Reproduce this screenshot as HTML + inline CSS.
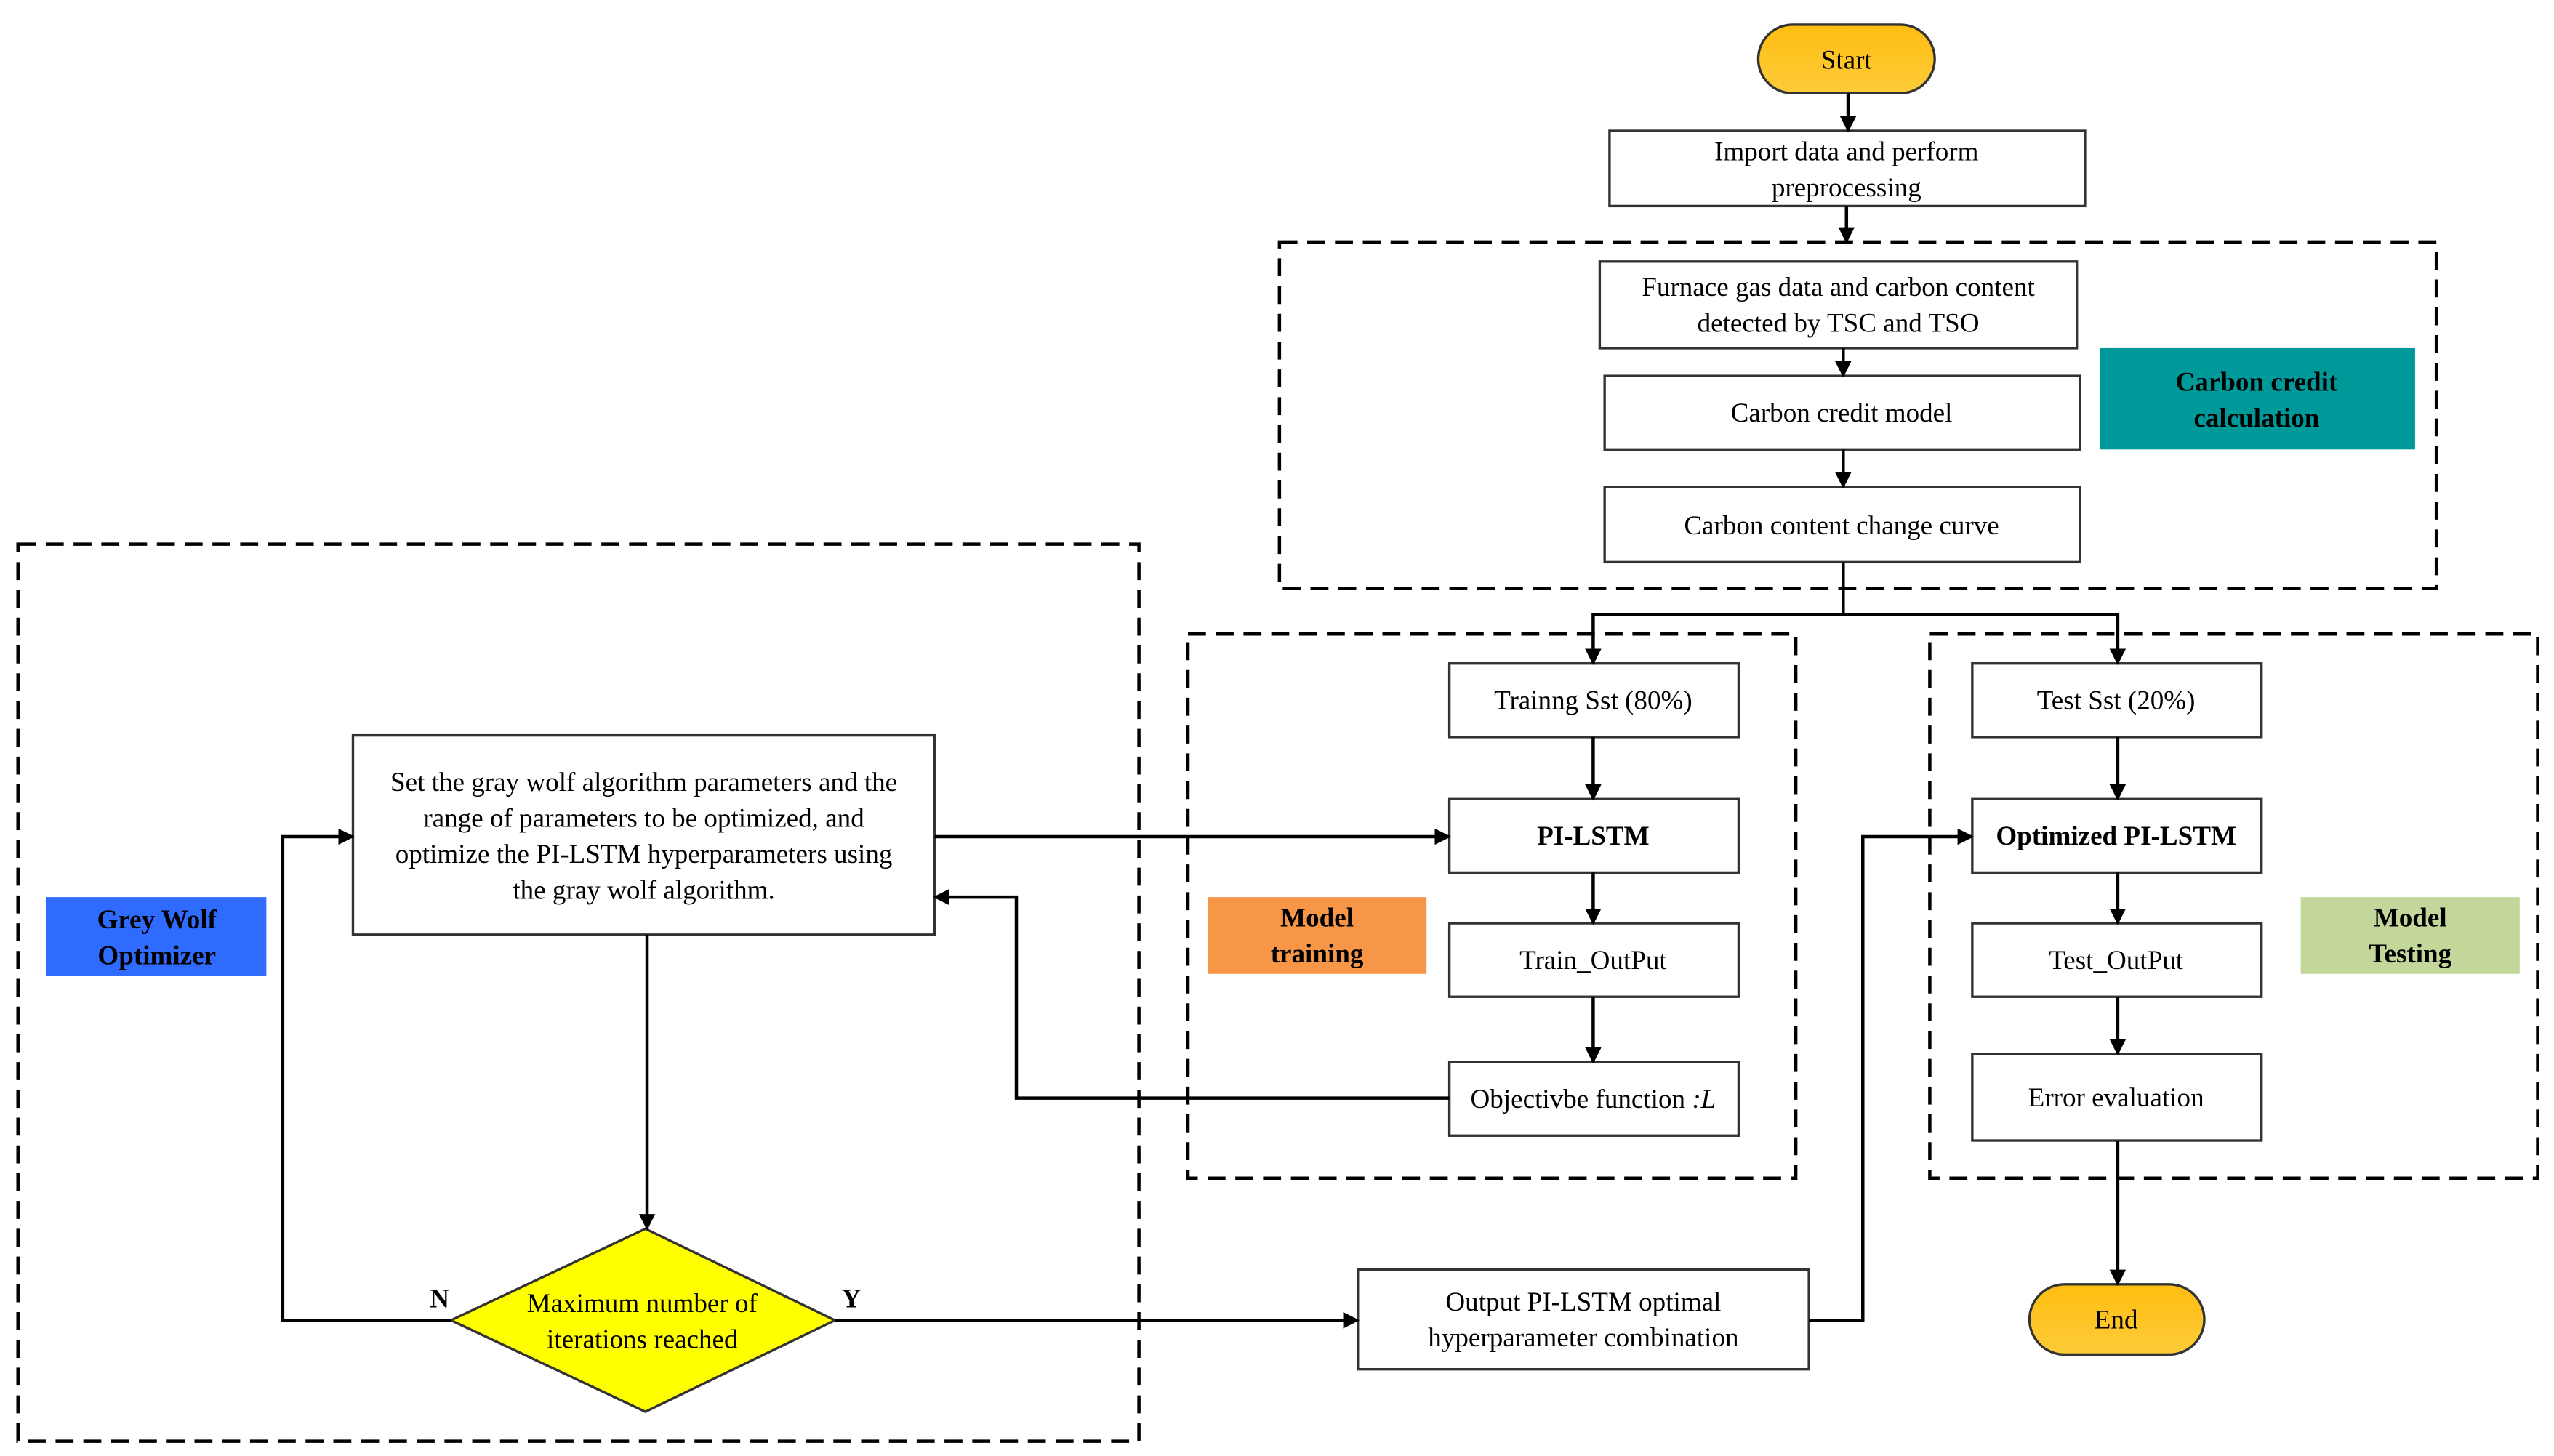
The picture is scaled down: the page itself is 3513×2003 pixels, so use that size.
<!DOCTYPE html>
<html><head><meta charset="utf-8"><style>html,body{margin:0;padding:0;background:#fff}svg{display:block}</style></head>
<body>
<svg width="3513" height="2003" viewBox="0 0 1563 891" xmlns="http://www.w3.org/2000/svg" font-family="'Liberation Serif', serif" font-size="16.5">
<defs>
<marker id="a" markerWidth="10" markerHeight="10" refX="9" refY="5" orient="auto" markerUnits="userSpaceOnUse"><path d="M0,0 L10,5 L0,10 z" fill="#000"/></marker>
<linearGradient id="g" x1="0" y1="0" x2="0" y2="1"><stop offset="0" stop-color="#FFBE10"/><stop offset="1" stop-color="#FDCB3A"/></linearGradient>
</defs>
<g fill="none" stroke="#000" stroke-width="2" stroke-dasharray="11,6">
<rect x="783" y="148" width="708" height="212"/>
<rect x="727" y="388" width="372" height="333"/>
<rect x="1181" y="388" width="372" height="333"/>
<rect x="11" y="333" width="686" height="549"/>
</g>
<rect x="1285" y="213" width="193" height="62" fill="#009999"/>
<rect x="739" y="549" width="134" height="47" fill="#F79646"/>
<rect x="1408" y="549" width="134" height="47" fill="#C4D79B"/>
<rect x="28" y="549" width="135" height="48" fill="#2F6BFF"/>
<g fill="#fff" stroke="#333" stroke-width="1.5">
<rect x="1076" y="15" width="108" height="42" rx="21" fill="url(#g)"/>
<rect x="1242" y="786" width="107" height="43" rx="21.5" fill="url(#g)"/>
<rect x="985" y="80" width="291" height="46"/>
<rect x="979" y="160" width="292" height="53"/>
<rect x="982" y="230" width="291" height="45"/>
<rect x="982" y="298" width="291" height="46"/>
<rect x="887" y="406" width="177" height="45"/>
<rect x="887" y="489" width="177" height="45"/>
<rect x="887" y="565" width="177" height="45"/>
<rect x="887" y="650" width="177" height="45"/>
<rect x="1207" y="406" width="177" height="45"/>
<rect x="1207" y="489" width="177" height="45"/>
<rect x="1207" y="565" width="177" height="45"/>
<rect x="1207" y="645" width="177" height="53"/>
<rect x="216" y="450" width="356" height="122"/>
<rect x="831" y="777" width="276" height="61"/>
<polygon points="276,808 395,752 511,808 395,864" fill="#FFFF00"/>
</g>
<g fill="none" stroke="#000" stroke-width="2" marker-end="url(#a)">
<path d="M1131,57 V80"/>
<path d="M1130,126 V148"/>
<path d="M1128,213 V230"/>
<path d="M1128,275 V298"/>
<path d="M1128,344 V376 H975 V406" marker-end="url(#a)"/>
<path d="M1128,376 H1296 V406"/>
<path d="M975,451 V489"/>
<path d="M975,534 V565"/>
<path d="M975,610 V650"/>
<path d="M1296,451 V489"/>
<path d="M1296,534 V565"/>
<path d="M1296,610 V645"/>
<path d="M1296,698 V786"/>
<path d="M572,512 H887"/>
<path d="M887,672 H622 V549 H572"/>
<path d="M396,572 V752"/>
<path d="M276,808 H173 V512 H216"/>
<path d="M511,808 H831"/>
<path d="M1107,808 H1140 V512 H1207"/>
</g>
<g text-anchor="middle" fill="#000">
<text x="1130" y="42">Start</text>
<text x="1295" y="813">End</text>
<text x="1130" y="98">Import data and perform</text>
<text x="1130" y="120">preprocessing</text>
<text x="1125" y="181">Furnace gas data and carbon content</text>
<text x="1125" y="203">detected by TSC and TSO</text>
<text x="1127" y="258">Carbon credit model</text>
<text x="1127" y="327">Carbon content change curve</text>
<text x="975" y="434">Trainng Sst (80%)</text>
<text x="975" y="517" font-weight="bold">PI-LSTM</text>
<text x="975" y="593">Train_OutPut</text>
<text x="975" y="678">Objectivbe function <tspan font-style="italic">:L</tspan></text>
<text x="1295" y="434">Test Sst (20%)</text>
<text x="1295" y="517" font-weight="bold">Optimized PI-LSTM</text>
<text x="1295" y="593">Test_OutPut</text>
<text x="1295" y="677">Error evaluation</text>
<text x="394" y="484">Set the gray wolf algorithm parameters and the</text>
<text x="394" y="506">range of parameters to be optimized, and</text>
<text x="394" y="528">optimize the PI-LSTM hyperparameters using</text>
<text x="394" y="550">the gray wolf algorithm.</text>
<text x="393" y="803">Maximum number of</text>
<text x="393" y="825">iterations reached</text>
<text x="969" y="802">Output PI-LSTM optimal</text>
<text x="969" y="824">hyperparameter combination</text>
<g font-weight="bold">
<text x="1381" y="239">Carbon credit</text>
<text x="1381" y="261">calculation</text>
<text x="806" y="567">Model</text>
<text x="806" y="589">training</text>
<text x="1475" y="567">Model</text>
<text x="1475" y="589">Testing</text>
<text x="96" y="568">Grey Wolf</text>
<text x="96" y="590">Optimizer</text>
<text x="269" y="800">N</text>
<text x="521" y="800">Y</text>
</g>
</g>
</svg>
</body></html>
